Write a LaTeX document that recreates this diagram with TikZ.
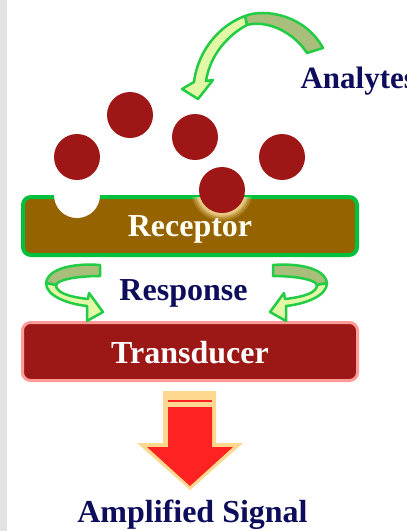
\documentclass[tikz,border=0pt]{standalone}
\usepackage{fontspec}
\setmainfont{Liberation Serif}
\definecolor{navy}{HTML}{0D0D5C}
\definecolor{brownbox}{HTML}{956300}
\definecolor{greenline}{HTML}{00C03C}
\definecolor{redbox}{HTML}{9C1816}
\definecolor{pinkline}{HTML}{FF9C98}
\definecolor{ballred}{HTML}{9E1716}
\definecolor{bandback}{HTML}{A8BE7A}
\definecolor{bandfront}{HTML}{E2F8A6}
\definecolor{bandline}{HTML}{22CC44}
\definecolor{signalred}{HTML}{FF2222}
\definecolor{signaledge}{HTML}{FFD890}
\definecolor{glowcol}{HTML}{F4D690}
\tikzset{
  layer/.style={rounded corners=8pt, minimum width=334pt, minimum height=58pt,
    font=\fontsize{32}{36}\selectfont\bfseries},
  title/.style={font=\fontsize{32}{36}\selectfont\bfseries, text=navy},
  band/.style={draw=bandline, line width=2.5pt, line join=round},
  ball/.style={fill=ballred}
}
\begin{document}
\begin{tikzpicture}[x=1pt,y=-1pt]
    \useasboundingbox[fill=white] (0,0) rectangle (407,531);
    \fill[gray!22] (0,0) rectangle (7,531);

    % layers
    \node[layer, draw=greenline, line width=4pt, fill=brownbox, text=white!95!yellow,
          text height=24pt, text depth=4pt] (rec) at (190,226) {Receptor};
    \node[layer, draw=pinkline, line width=3pt, fill=redbox, text=white,
          minimum width=335pt, text height=26pt, text depth=3pt] (trans) at (190,351.5) {Transducer};

    % analytes
    \fill[white] (77,195) circle (23);
    \begin{scope}
        \clip (23,197) rectangle (357,255);
        \foreach \r/\o in {31/0.2,29/0.3,27/0.45,25.5/0.6}
            \fill[glowcol, opacity=\o] (222,190) circle (\r);
    \end{scope}
    \foreach \x/\y in {77/157,130/115,195/137,282/157,222/190}
        \fill[ball] (\x,\y) circle (23);

    % top arrow
    \draw[band, fill=bandback] (307,53) -- (323,48) .. controls (305,15) and (265,8) .. (245,16)
        -- (247,25) .. controls (265,20) and (292,30) .. cycle;
    \draw[band, fill=bandfront] (245,16) .. controls (220,25) and (198,50) .. (194,82)
        -- (182,89) -- (198,99) -- (213,80) -- (206,81) .. controls (210,55) and (228,35) .. (247,25) -- cycle;

    % response arrows
    \foreach \s/\d in {1/0,-1/373}{
        \begin{scope}[xshift=\d pt, xscale=\s]
            \draw[band, fill=bandback] (100,276) -- (100,265) .. controls (75,263) and (48,268) .. (46,283)
                -- (56,285) .. controls (58,279) and (80,276) .. cycle;
            \draw[band, fill=bandfront] (46,283) .. controls (46,296) and (68,304) .. (87,306)
                -- (87,321) -- (103,312) -- (89,293) -- (88,299) .. controls (70,297) and (56,293) .. (56,285) -- cycle;
        \end{scope}
    }

    % signal arrow
    \fill[signaledge] (163,391) -- (216,391) -- (216,443) -- (243,443) -- (190,490) -- (137,443) -- (163,443) -- cycle;
    \fill[signalred] (168,407) -- (212,407) -- (212,447) -- (233,447) -- (190,486) -- (147,447) -- (168,447) -- cycle;
    \draw[signalred, line width=2pt] (168,401) -- (212,401);

    \node[title, font=\fontsize{31}{36}\selectfont\bfseries, anchor=base west] (analytes) at (297,88) {Analytes};
    \node[title, anchor=base] (resp) at (183.5,300) {Response};
    \node[title, anchor=base] (signal) at (192.5,522) {Amplified Signal};
\end{tikzpicture}
\end{document}
